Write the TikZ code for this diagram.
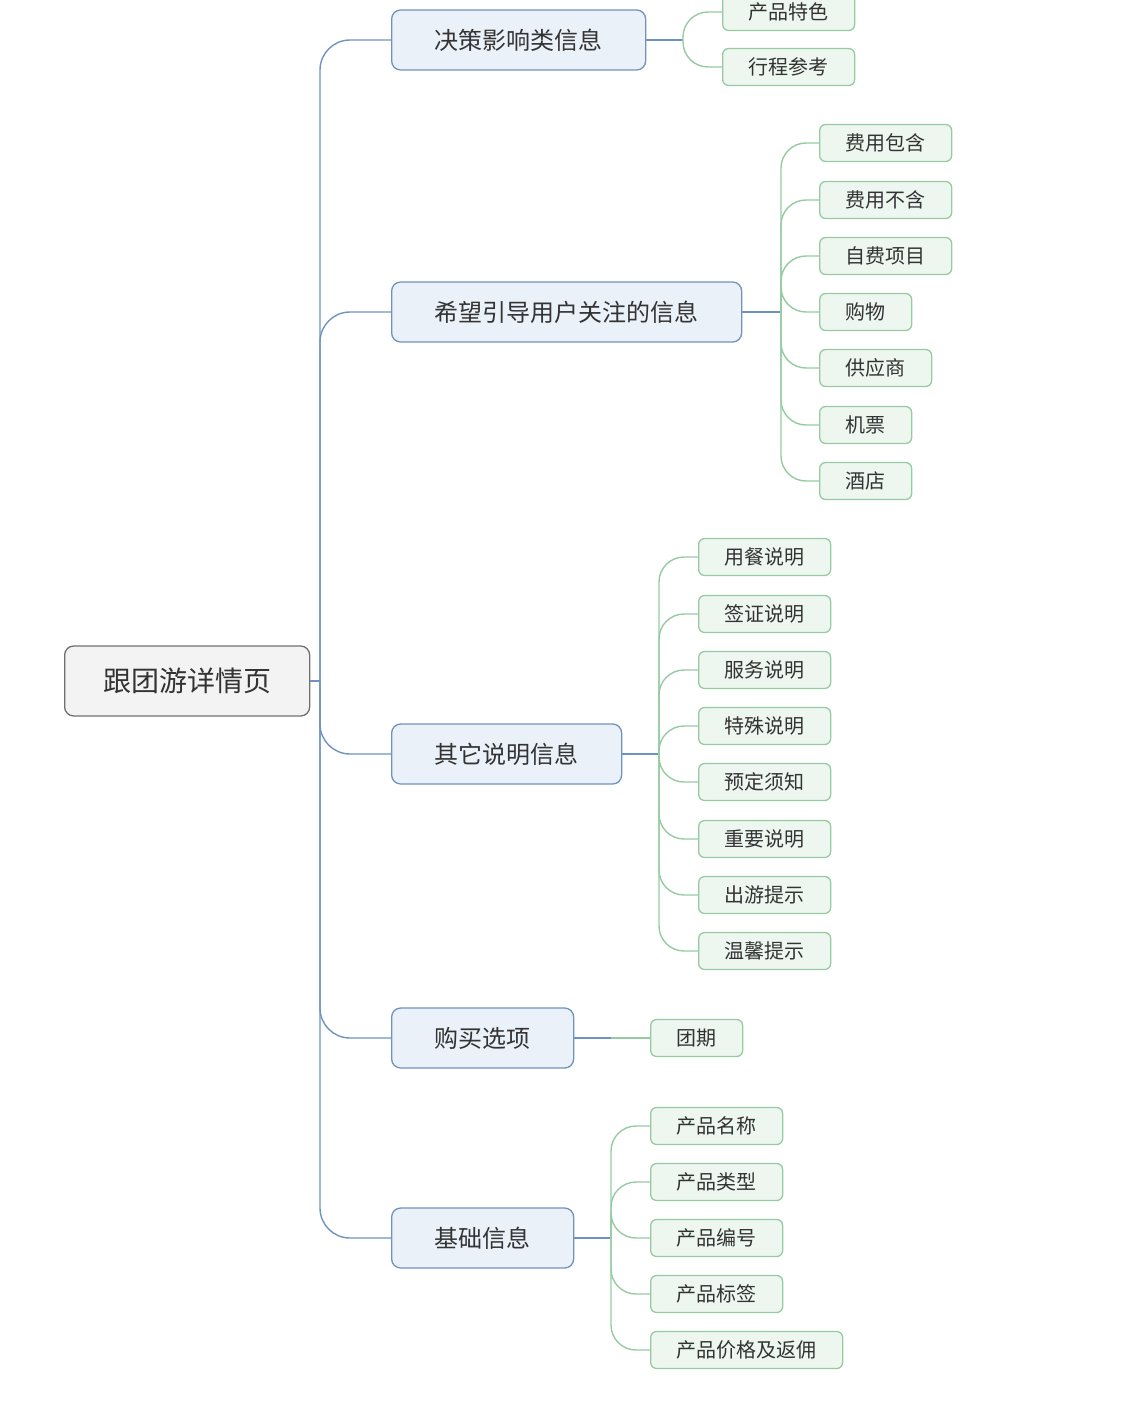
\documentclass[tikz,border=0pt]{standalone}
\usepackage{fontspec}
\setmainfont{Noto Sans CJK SC}
\usepackage{tikz}
\definecolor{rootfill}{HTML}{F3F3F3}
\definecolor{rootline}{HTML}{707070}
\definecolor{topicfill}{HTML}{EBF1F9}
\definecolor{topicline}{HTML}{6F93BF}
\definecolor{leaffill}{HTML}{EDF6EF}
\definecolor{leafline}{HTML}{96CBA2}
\definecolor{txt}{HTML}{333333}
\begin{document}
\begin{tikzpicture}[x=1pt,y=-1pt,
rootbox/.style={draw=rootline,fill=rootfill,line width=1.3pt,rounded corners=9pt,anchor=west,minimum height=70pt,inner xsep=38.5pt,text=txt,font=\fontsize{28}{32}\selectfont},
topicbox/.style={draw=topicline,fill=topicfill,line width=1.3pt,rounded corners=9pt,anchor=west,minimum height=60pt,inner xsep=43pt,text=txt,font=\fontsize{24}{28}\selectfont},
leafbox/.style={draw=leafline,fill=leaffill,line width=1.3pt,rounded corners=6pt,anchor=west,minimum height=37pt,inner xsep=26pt,text=txt,font=\fontsize{20}{24}\selectfont},
trunk/.style={draw=topicline,line width=1.4pt,rounded corners=30pt},
twig/.style={draw=leafline,line width=1.4pt,rounded corners=25pt}]
\useasboundingbox (0,0) rectangle (1130,1402);
\node[rootbox] (root) at (64,681) {跟团游详情页};
\node[topicbox] (t1) at (391,40) {决策影响类信息};
\node[topicbox] (t2) at (391,312) {希望引导用户关注的信息};
\node[topicbox] (t3) at (391,754) {其它说明信息};
\node[topicbox] (t4) at (391,1038) {购买选项};
\node[topicbox] (t5) at (391,1238) {基础信息};
\coordinate (tr) at (320,681);
\draw[trunk] (root.east) -- (tr);
\foreach \t in {t1,t2,t3,t4,t5}
  \draw[trunk] (tr) |- (\t.west);
\node[leafbox] (a1) at (722,12) {产品特色};
\node[leafbox] (a2) at (722,67) {行程参考};
\coordinate (ba) at (683,40);
\draw[trunk,rounded corners=0pt] (t1.east) -- (ba);
\foreach \l in {a1,a2}
  \draw[twig] (ba) |- (\l.west);
\node[leafbox] (b1) at (819,143) {费用包含};
\node[leafbox] (b2) at (819,200) {费用不含};
\node[leafbox] (b3) at (819,256) {自费项目};
\node[leafbox] (b4) at (819,312) {购物};
\node[leafbox] (b5) at (819,368) {供应商};
\node[leafbox] (b6) at (819,425) {机票};
\node[leafbox] (b7) at (819,481) {酒店};
\coordinate (bb) at (781,312);
\draw[trunk,rounded corners=0pt] (t2.east) -- (bb);
\foreach \l in {b1,b2,b3,b4,b5,b6,b7}
  \draw[twig] (bb) |- (\l.west);
\node[leafbox] (c1) at (698,557) {用餐说明};
\node[leafbox] (c2) at (698,614) {签证说明};
\node[leafbox] (c3) at (698,670) {服务说明};
\node[leafbox] (c4) at (698,726) {特殊说明};
\node[leafbox] (c5) at (698,782) {预定须知};
\node[leafbox] (c6) at (698,839) {重要说明};
\node[leafbox] (c7) at (698,895) {出游提示};
\node[leafbox] (c8) at (698,951) {温馨提示};
\coordinate (bc) at (659,754);
\draw[trunk,rounded corners=0pt] (t3.east) -- (bc);
\foreach \l in {c1,c2,c3,c4,c5,c6,c7,c8}
  \draw[twig] (bc) |- (\l.west);
\node[leafbox] (d1) at (650,1038) {团期};
\coordinate (bd) at (611,1038);
\draw[trunk,rounded corners=0pt] (t4.east) -- (bd);
\draw[twig] (bd) -- (d1.west);
\node[leafbox] (e1) at (650,1126) {产品名称};
\node[leafbox] (e2) at (650,1182) {产品类型};
\node[leafbox] (e3) at (650,1238) {产品编号};
\node[leafbox] (e4) at (650,1294) {产品标签};
\node[leafbox] (e5) at (650,1350) {产品价格及返佣};
\coordinate (be) at (611,1238);
\draw[trunk,rounded corners=0pt] (t5.east) -- (be);
\foreach \l in {e1,e2,e3,e4,e5}
  \draw[twig] (be) |- (\l.west);
\end{tikzpicture}
\end{document}
